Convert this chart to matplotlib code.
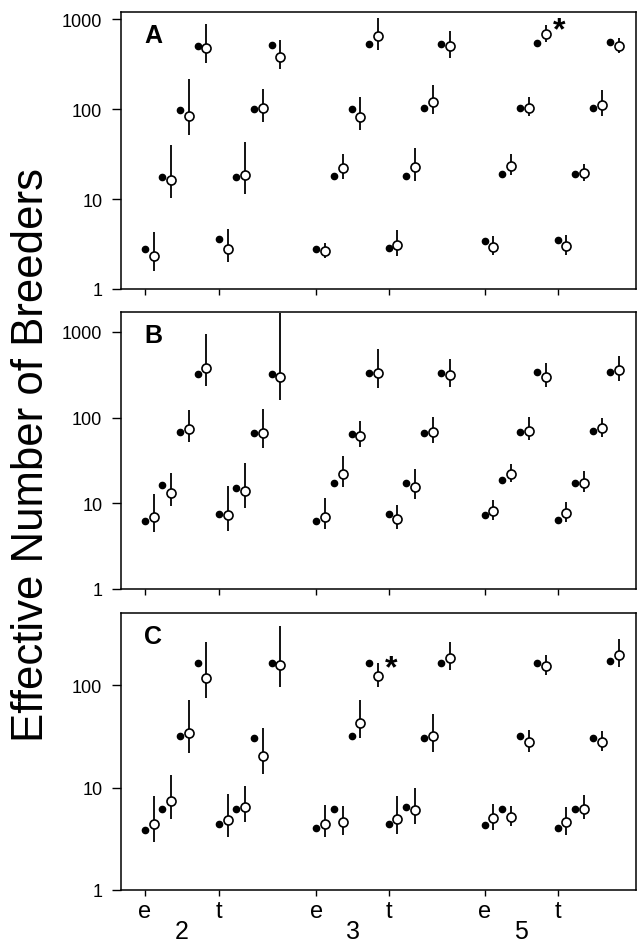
import numpy as np
import matplotlib.pyplot as plt
from matplotlib.ticker import NullLocator, FixedLocator, FixedFormatter

plt.rcParams['font.family'] = ['Liberation Sans', 'DejaVu Sans']

# sub-groups along the x axis: (e, t) for each of the groups 2, 3, 5
groups = ['2', '3', '5']
methods = ['e', 't', 'e', 't', 'e', 't']

# rows = e2, t2, e3, t3, e5, t5 ; columns = four levels
a_true = [[2.8, 17.7, 98, 505], [3.6, 17.7, 99, 510], [2.76, 18, 100, 523],
          [2.88, 18.2, 102, 527], [3.44, 19, 103, 541], [3.5, 19.1, 104, 550]]
a_est = [[2.3, 16.3, 84, 476], [2.8, 18.3, 102, 375], [2.64, 22, 81.5, 642],
         [3.08, 22.5, 121, 497], [2.93, 23.5, 104, 675], [2.98, 19.3, 111, 501]]
a_lo = [[1.57, 10.2, 51, 324], [2.0, 11.5, 72, 278], [2.2, 16.7, 58, 456],
        [2.35, 16, 88, 369], [2.39, 18.5, 84, 550], [2.4, 15.7, 83, 415]]
a_hi = [[4.3, 40, 215, 880], [4.7, 43, 167, 584], [3.24, 32, 135, 1026],
        [4.56, 37, 185, 729], [3.85, 32, 135, 858], [3.95, 24.5, 163, 610]]

b_true = [[6.28, 16.4, 67.4, 323], [7.57, 15, 66.2, 326], [6.28, 17.4, 64.5, 332],
          [7.5, 17.3, 66, 332], [7.38, 18.5, 68.6, 338], [6.45, 17.4, 69.2, 338]]
b_est = [[6.86, 13.2, 73.8, 384], [7.3, 13.8, 66, 298], [7.0, 22, 61.6, 332],
         [6.56, 15.7, 68.6, 312], [8.06, 22, 70.5, 301], [7.78, 17.3, 75, 357]]
b_lo = [[4.6, 9.2, 51.5, 236], [4.8, 8.9, 44, 162], [5.0, 15.7, 45, 220],
        [5.0, 11.2, 50.6, 228], [6.4, 17.6, 54.9, 230], [6.1, 13.4, 59.5, 268]]
b_hi = [[12.8, 22.6, 122, 957], [15.8, 29.6, 126, 1650], [11.4, 35.4, 92, 633],
        [9.65, 25.2, 103, 480], [10.8, 28.8, 102, 431], [10.5, 24, 99, 525]]

c_true = [[3.88, 6.17, 31.8, 166], [4.4, 6.17, 30.4, 164], [4.06, 6.17, 31.8, 166],
          [4.37, 6.5, 30.2, 166], [4.31, 6.21, 31.8, 166], [4.0, 6.12, 30.6, 173]]
c_est = [[4.4, 7.33, 34, 116], [4.82, 6.45, 20.5, 157], [4.37, 4.57, 42.6, 122],
         [4.93, 6.08, 31.6, 183], [5.0, 5.19, 27.8, 155], [4.6, 6.21, 28, 198]]
c_lo = [[2.92, 4.93, 21.5, 74.6], [3.27, 4.57, 13.7, 96], [3.27, 3.47, 30.4, 94.9],
        [3.52, 4.4, 22, 140], [3.88, 4.24, 22, 125], [3.44, 4.93, 22.9, 149]]
c_hi = [[8.3, 13.3, 72, 261], [8.6, 10.4, 37.8, 379], [6.75, 6.55, 71.4, 166],
        [8.3, 10.0, 52, 265], [6.95, 6.65, 36.4, 196], [6.5, 8.5, 35.3, 281]]

# layout
base = np.array([0, 4.2, 9.75, 13.85, 19.3, 23.45])
W, H = 638, 945
panels = [
    ('A', a_true, a_est, a_lo, a_hi, (13, 290), 1200, [1, 10, 100, 1000], (4, 3)),
    ('B', b_true, b_est, b_lo, b_hi, (313, 590), 1710, [1, 10, 100, 1000], None),
    ('C', c_true, c_est, c_lo, c_hi, (614, 891), 505, [1, 10, 100], (2, 3)),
]

fig = plt.figure(figsize=(W / 100, H / 100), dpi=100)
left, right = 121, 636

for letter, tru, est, lo, hi, (top, bot), ytop, yt, star in panels:
    ax = fig.add_axes([left / W, 1 - bot / H, (right - left) / W, (bot - top) / H])
    tru = np.array(tru)
    est = np.array(est)
    lo = np.array(lo)
    hi = np.array(hi)
    xf = (base[:, None] + np.arange(4)[None, :])
    xo = xf + 0.5

    ax.plot(xf.ravel(), tru.ravel(), 'o', ms=4.5, color='black', zorder=3)
    ax.vlines(xo.ravel(), lo.ravel(), hi.ravel(), color='black', lw=1.3, zorder=2)
    ax.plot(xo.ravel(), est.ravel(), 'o', ms=6.5, mfc='white', mec='black',
            mew=1.2, zorder=4)

    if star is not None:
        i, k = star
        ax.text(xo[i, k] + 0.75, hi[i, k] * 0.88, '*', fontsize=23,
                fontweight='bold', ha='center', va='center')

    ax.set_yscale('log')
    ax.set_ylim(1, ytop)
    ax.set_xlim(-1.35, 27.9)
    ax.yaxis.set_major_locator(FixedLocator(yt))
    ax.yaxis.set_major_formatter(FixedFormatter([str(v) for v in yt]))
    ax.yaxis.set_minor_locator(NullLocator())
    ax.set_xticks(base)
    ax.tick_params(axis='y', direction='out', length=6.5, width=1.0, pad=7,
                   labelsize=13)
    ax.tick_params(axis='x', direction='out', length=4.3, width=1.0, pad=3,
                   labelsize=17)
    for s in ax.spines.values():
        s.set_linewidth(1.1)

    ax.text(0.045, 0.89, letter, transform=ax.transAxes, fontsize=18,
            fontweight='bold', va='baseline', ha='left')

    if letter == 'C':
        ax.set_xticklabels(methods)
        for g, name in enumerate(groups):
            xc = (base[2 * g] + base[2 * g + 1]) / 2
            ax.text(xc, -0.191, name, transform=ax.get_xaxis_transform(),
                    fontsize=18, ha='center', va='bottom')
    else:
        ax.set_xticklabels([])

fig.text(32 / W, 1 - 455 / H, 'Effective Number of Breeders', rotation=90,
         fontsize=31.5, ha='center', va='center')

fig.savefig('out.png', dpi=100)
